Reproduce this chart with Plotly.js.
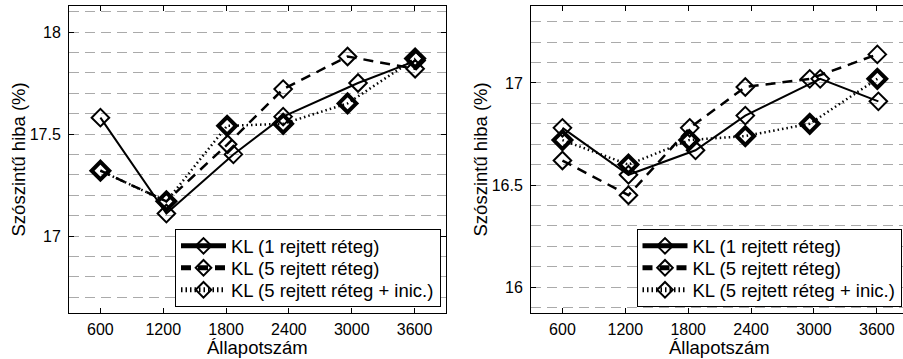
<!DOCTYPE html>
<html>
<head>
<meta charset="utf-8">
<script src="https://cdn.plot.ly/plotly-3.0.1.min.js"></script>
<style>html,body{margin:0;padding:0;background:#fff}#chart{width:903px;height:359px}</style>
</head>
<body>
<div id="chart"></div>
<script>
// Series names
var seriesNames = ['KL (1 rejtett réteg)', 'KL (5 rejtett réteg)', 'KL (5 rejtett réteg + inic.)'];
// x values (number of states) per series
var xSolid  = [600, 1230, 1870, 2345, 3060, 3615];
var xDashed = [600, 1230, 1815, 2345, 2960, 3605];
var xDotted = [600, 1230, 1810, 2345, 2960, 3605];
// Left panel values (%)
var leftSolid  = [17.58, 17.11, 17.40, 17.585, 17.75, 17.86];
var leftDashed = [17.32, 17.17, 17.45, 17.72, 17.88, 17.82];
var leftDotted = [17.32, 17.17, 17.54, 17.55, 17.65, 17.87];
// Right panel values (%)
var rightSolid  = [16.78, 16.55, 16.67, 16.84, 17.02, 16.91];
var rightDashed = [16.62, 16.45, 16.78, 16.98, 17.02, 17.14];
var rightDotted = [16.72, 16.60, 16.72, 16.74, 16.80, 17.02];
// Tick labels
var xTicks = [600, 1200, 1800, 2400, 3000, 3600];
var xTitle = 'Állapotszám';
var yTitle = 'Szószintű hiba (%)';

var FONT = 'Liberation Sans, Arial, Helvetica, sans-serif';
var LEG_FONT_SMALL = 14.6;   // controls row height
var LEG_FONT = 18.5;         // displayed legend text size

function mk(x, y, name, style, xa, ya, leg) {
  var line, marker;
  if (style === 0) {
    line = {color: '#000', width: 2, dash: 'solid'};
    marker = {symbol: 'diamond-open', size: 13.5, color: '#000', line: {width: 2, color: '#000'}};
  } else if (style === 1) {
    line = {color: '#000', width: 2.5, dash: '10px,7px'};
    marker = {symbol: 'diamond-open', size: 13.5, color: '#000', line: {width: 2, color: '#000'}};
  } else {
    line = {color: '#000', width: 2.5, dash: '1.5px,3px'};
    marker = {symbol: 'diamond-open', size: 13.5, color: '#000', line: {width: 4, color: '#000'}};
  }
  return {x: x, y: y, name: name, type: 'scatter', mode: 'lines+markers',
          line: line, marker: marker, xaxis: xa, yaxis: ya, legend: leg, showlegend: true};
}

var data = [
  mk(xSolid, leftSolid, seriesNames[0], 0, 'x', 'y', 'legend'),
  mk(xDashed, leftDashed, seriesNames[1], 1, 'x', 'y', 'legend'),
  mk(xDotted, leftDotted, seriesNames[2], 2, 'x', 'y', 'legend'),
  mk(xSolid, rightSolid, seriesNames[0], 0, 'x2', 'y2', 'legend2'),
  mk(xDashed, rightDashed, seriesNames[1], 1, 'x2', 'y2', 'legend2'),
  mk(xDotted, rightDotted, seriesNames[2], 2, 'x2', 'y2', 'legend2')
];

function yax(range, anchor, mirror) {
  return {
    range: range, anchor: anchor, domain: [0, 1],
    tickmode: 'linear', dtick: 0.5, tick0: 0,
    ticks: 'inside', ticklen: 5, tickcolor: '#000',
    showline: true, linecolor: '#000', linewidth: 1, mirror: mirror,
    showgrid: true, gridcolor: '#aaaaaa', gridwidth: 1, griddash: '10px,6px',
    minor: {dtick: 0.1, tick0: 0, showgrid: true, gridcolor: '#aaaaaa', gridwidth: 1, griddash: '10px,6px', ticks: ''},
    zeroline: false, ticklabelstandoff: 4,
    tickfont: {family: FONT, size: 16, color: '#000'},
    title: {text: ''}
  };
}
function xax(range, domain, anchor) {
  return {
    range: range, domain: domain, anchor: anchor,
    tickmode: 'array', tickvals: xTicks, ticktext: xTicks.map(String),
    ticks: 'inside', ticklen: 5, tickcolor: '#000',
    showline: true, linecolor: '#000', linewidth: 1, mirror: 'ticks',
    showgrid: false, zeroline: false, ticklabelstandoff: 2,
    tickfont: {family: FONT, size: 16, color: '#000'},
    title: {text: ''}
  };
}

var legendCommon = {
  xanchor: 'right', yanchor: 'bottom',
  bgcolor: '#fff', bordercolor: '#000', borderwidth: 1,
  font: {family: FONT, size: LEG_FONT_SMALL, color: '#000'},
  itemwidth: 45, tracegroupgap: 0, traceorder: 'normal', itemsizing: 'constant'
};

// legend boxes: right edge (px) and width (px) in the reference
var legendBoxes = {legend: {right: 439.5, width: 264.5}, legend2: {right: 901, width: 264.5}};

var titleFont = {family: FONT, size: 18.5, color: '#000'};
var layout = {
  width: 903, height: 359,
  margin: {l: 0, r: 0, t: 6, b: 46, pad: 0},
  paper_bgcolor: '#fff', plot_bgcolor: '#fff',
  showlegend: true,
  xaxis: xax([300, 3900], [69 / 903, 446 / 903], 'y'),
  yaxis: yax([16.6225, 18.1275], 'x', 'ticks'),
  xaxis2: xax([300, 3850], [531 / 903, 1], 'y2'),
  yaxis2: yax([15.873, 17.377], 'x2', false),
  legend: Object.assign({x: 0.45, y: 0.02}, legendCommon),
  legend2: Object.assign({x: 0.95, y: 0.02}, legendCommon),
  annotations: [
    {text: yTitle, xref: 'paper', yref: 'paper', x: 18 / 903, y: 0.5, xanchor: 'center', yanchor: 'middle',
     textangle: -90, showarrow: false, font: titleFont},
    {text: yTitle, xref: 'paper', yref: 'paper', x: 480 / 903, y: 0.5, xanchor: 'center', yanchor: 'middle',
     textangle: -90, showarrow: false, font: titleFont},
    {text: xTitle, xref: 'paper', yref: 'paper', x: 257.5 / 903, y: (313 - 347) / 307, xanchor: 'center', yanchor: 'middle',
     showarrow: false, font: titleFont},
    {text: xTitle, xref: 'paper', yref: 'paper', x: 719 / 903, y: (313 - 347) / 307, xanchor: 'center', yanchor: 'middle',
     showarrow: false, font: titleFont}
  ]
};

function fixLegends() {
  var gd = document.getElementById('chart');
  var groups = gd.querySelectorAll('g.infolayer > g');
  groups.forEach(function (g) {
    var cls = g.getAttribute('class') || '';
    var key = null;
    if (/(^|\s)legend2(\s|$)/.test(cls)) key = 'legend2';
    else if (/(^|\s)legend(\s|$)/.test(cls)) key = 'legend';
    if (!key) return;
    var box = legendBoxes[key];
    var bg = g.querySelector('rect.bg');
    g.querySelectorAll('g.traces text').forEach(function (t) {
      var st = (t.getAttribute('style') || '').replace(/font-size:\s*[\d.]+px;?/g, '');
      t.setAttribute('style', st + ';font-size:' + LEG_FONT + 'px');
      t.setAttribute('y', (0.39 * LEG_FONT).toFixed(2));
    });
    if (bg) bg.setAttribute('width', box.width);
    var sb = g.querySelector('g.scrollbox');
    var cp = sb && sb.getAttribute('clip-path');
    if (cp) {
      var cid = /#([^'")]+)/.exec(cp);
      if (cid) {
        var c = document.getElementById(cid[1]);
        if (c) { var rr = c.querySelector('rect') || c; rr.setAttribute('width', box.width); }
      }
    }
    var tf = g.getAttribute('transform') || '';
    var nums = tf.match(/-?[\d.]+(e-?\d+)?/g) || ['0', '0'];
    var ty = parseFloat(nums[1] || 0);
    g.setAttribute('transform', 'translate(' + (box.right - box.width) + ',' + ty + ')');
  });
}

Plotly.newPlot('chart', data, layout, {staticPlot: true, displayModeBar: false}).then(function (gd) {
  fixLegends();
});
</script>
</body>
</html>
